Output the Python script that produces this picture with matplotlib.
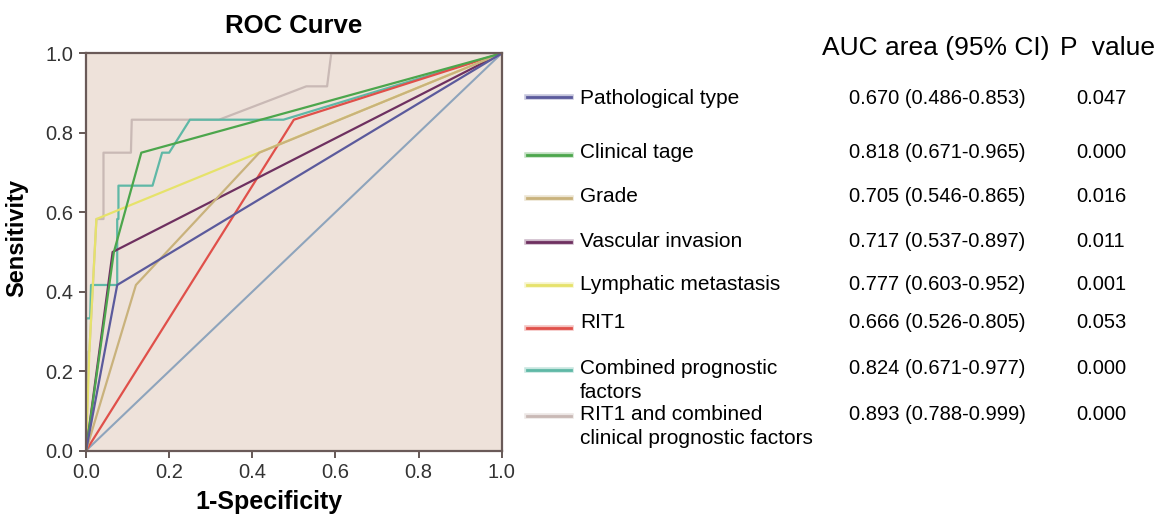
import matplotlib.pyplot as plt
from matplotlib.lines import Line2D

plt.rcParams['font.family'] = ['Liberation Sans', 'DejaVu Sans']

# ROC curve points (1-specificity, sensitivity)
path_x = [0, 0.075, 1]
path_y = [0, 0.417, 1]
stage_x = [0, 0.067, 0.133, 1]
stage_y = [0, 0.5, 0.75, 1]
grade_x = [0, 0.12, 0.417, 1]
grade_y = [0, 0.417, 0.75, 1]
vasc_x = [0, 0.064, 1]
vasc_y = [0, 0.5, 1]
lymph_x = [0, 0.008, 0.025, 1]
lymph_y = [0, 0.25, 0.583, 1]
rit1_x = [0, 0.5, 1]
rit1_y = [0, 0.833, 1]
comb_x = [0, 0, 0.01, 0.012, 0.075, 0.075, 0.078, 0.078, 0.16, 0.183, 0.2, 0.25, 0.475, 1]
comb_y = [0, 0.333, 0.333, 0.417, 0.417, 0.583, 0.583, 0.667, 0.667, 0.75, 0.75, 0.833, 0.833, 1]
all_x = [0, 0.006, 0.008, 0.025, 0.042, 0.042, 0.108, 0.11, 0.32, 0.53, 0.58, 0.59, 1]
all_y = [0, 0.25, 0.25, 0.583, 0.583, 0.75, 0.75, 0.833, 0.833, 0.917, 0.917, 1, 1]

labels = ['Pathological type', 'Clinical tage', 'Grade', 'Vascular invasion',
          'Lymphatic metastasis', 'RIT1', 'Combined prognostic\nfactors',
          'RIT1 and combined\nclinical prognostic factors']
auc_text = ['0.670 (0.486-0.853)', '0.818 (0.671-0.965)', '0.705 (0.546-0.865)',
            '0.717 (0.537-0.897)', '0.777 (0.603-0.952)', '0.666 (0.526-0.805)',
            '0.824 (0.671-0.977)', '0.893 (0.788-0.999)']
p_text = ['0.047', '0.000', '0.016', '0.011', '0.001', '0.053', '0.000', '0.000']

colors = ['#5b5a9c', '#4ca64c', '#c9b27c', '#6e3060', '#e6e26a', '#e0504a', '#5fb8a6', '#c9b9b5']
curves = [(path_x, path_y), (stage_x, stage_y), (grade_x, grade_y), (vasc_x, vasc_y),
          (lymph_x, lymph_y), (rit1_x, rit1_y), (comb_x, comb_y), (all_x, all_y)]

fig = plt.figure(figsize=(11.61, 5.18), dpi=100)
ax = fig.add_axes([0.0741, 0.130, 0.358, 0.767])
ax.set_facecolor('#eee2da')

ax.plot([0, 1], [0, 1], color='#8ea4bc', lw=1.5)
for (xs, ys), c in zip(curves[::-1], colors[::-1]):
    ax.plot(xs, ys, color=c, lw=1.6)

ax.set_xlim(0, 1)
ax.set_ylim(0, 1)
ticks = [0, 0.2, 0.4, 0.6, 0.8, 1.0]
ax.set_xticks(ticks)
ax.set_yticks(ticks)
ax.set_xticklabels([f'{t:.1f}' for t in ticks])
ax.set_yticklabels([f'{t:.1f}' for t in ticks])
ax.tick_params(direction='out', length=5, width=1.2, pad=4, color='#4a3c3a',
               labelsize=14.5, labelcolor='#333333')
for s in ax.spines.values():
    s.set_color('#6a5a58')
    s.set_linewidth(1.6)

ax.set_title('ROC Curve', fontsize=18.5, fontweight='bold', pad=15)
ax.set_xlabel('1-Specificity', fontsize=18, fontweight='bold')
ax.set_ylabel('Sensitivity', fontsize=17, fontweight='bold')
ax.xaxis.set_label_coords(0.44, -0.1)
ax.yaxis.set_label_coords(-0.14, 0.534)

# table-style legend on the right
W, H = 1161, 518
fig.text(822 / W, 1 - 48 / H, 'AUC area (95% CI)', fontsize=19, va='center')
fig.text(1060 / W, 1 - 48 / H, 'P  value', fontsize=19, va='center')

row_y = [98, 153, 197, 241, 285, 323, 368, 415]
line_y = [97, 155, 198, 242, 285, 328, 370, 416]
for i, lab in enumerate(labels):
    yl = 1 - line_y[i] / H
    fig.add_artist(Line2D([527 / W, 571 / W], [yl, yl], color=colors[i], lw=4,
                          alpha=0.35, transform=fig.transFigure))
    fig.add_artist(Line2D([527 / W, 571 / W], [yl, yl], color=colors[i], lw=2,
                          transform=fig.transFigure))
    for k, part in enumerate(lab.split('\n')):
        fig.text(580 / W, 1 - (row_y[i] + 24 * k) / H, part, fontsize=15, va='center')
    fig.text(849 / W, 1 - row_y[i] / H, auc_text[i], fontsize=14.5, va='center')
    fig.text(1076 / W, 1 - row_y[i] / H, p_text[i], fontsize=14.5, va='center')

fig.savefig('out.png', dpi=100)
